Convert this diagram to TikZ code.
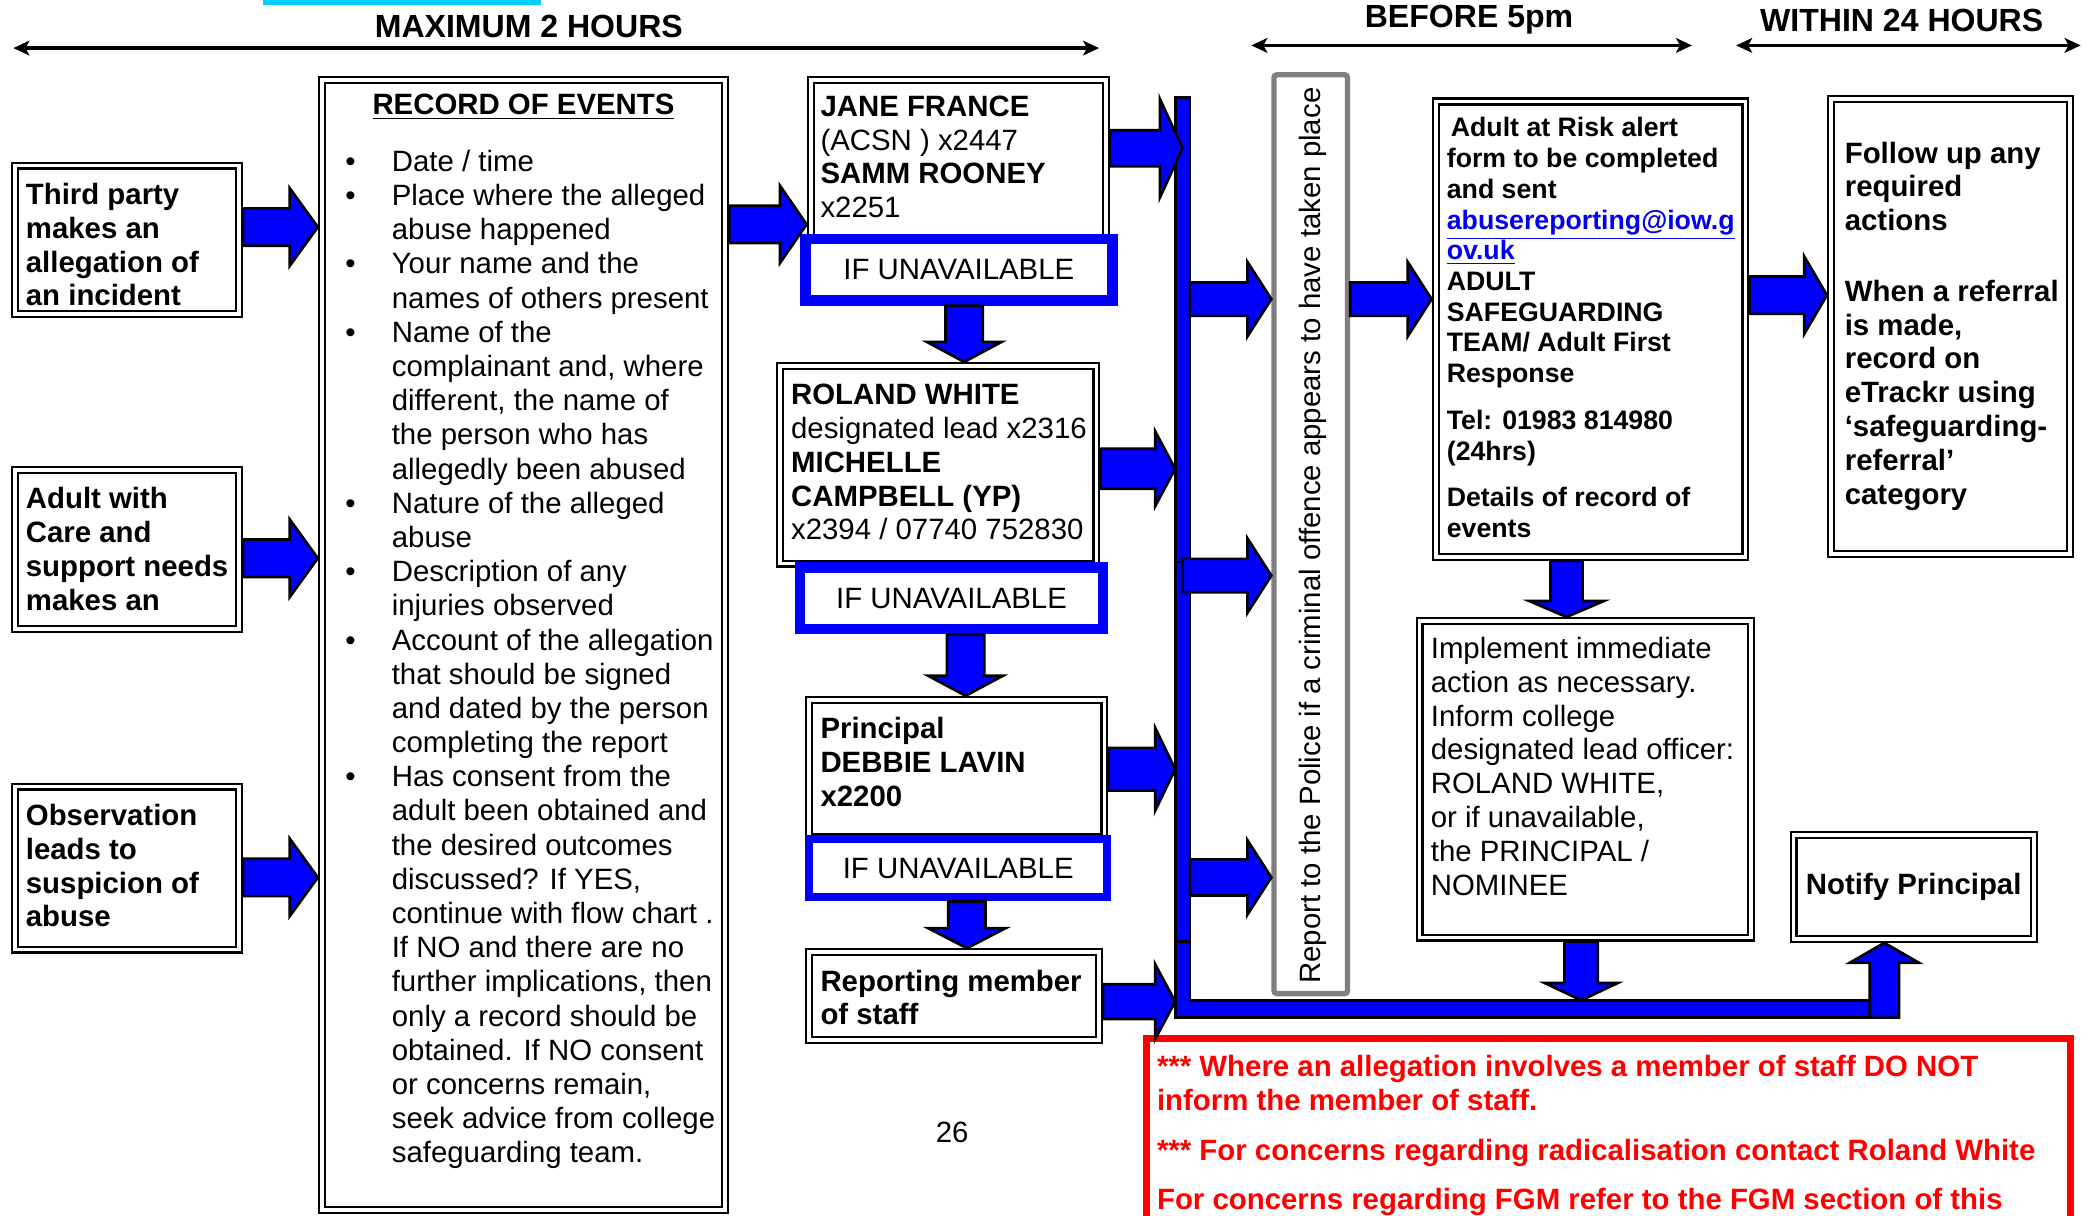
\documentclass[tikz,border=0pt]{standalone}
\usepackage{fontspec}
\setmainfont{Liberation Sans}
\usetikzlibrary{arrows.meta,calc}
\definecolor{pblue}{RGB}{0,0,255}
\definecolor{linkblue}{RGB}{0,0,238}
\definecolor{cyanbar}{RGB}{0,204,255}
\definecolor{pgray}{RGB}{128,128,128}
\definecolor{pred}{RGB}{255,0,0}
% double-bordered box: name, x, y, W, H (px), text
\newcommand\dbox[6]{\node[dbox, minimum width={(#4)*0.5pt-3pt}, minimum height={(#5)*0.5pt-3pt}] (#1) at (#2,#3) {#6};}
% blue "IF UNAVAILABLE" box: name, x, y, W, H, line width (pt)
\newcommand\ibox[6]{\node[ifbox, line width=#6pt, minimum width={(#4-2*#6)*0.5pt}, minimum height={(#5-2*#6)*0.5pt}] (#1) at (#2,#3) {IF UNAVAILABLE};}
% right block arrow: from, to, y, shaft half, head half, head length (px)
\newcommand\harr[6]{\draw[barrow] let \p1=(#1), \p2=(#2) in
 (\x1,{-(#3-#4)*0.5pt}) -- ({\x2-#6*0.5pt},{-(#3-#4)*0.5pt}) -- ({\x2-#6*0.5pt},{-(#3-#5)*0.5pt})
 -- (\x2,{-#3*0.5pt}) -- ({\x2-#6*0.5pt},{-(#3+#5)*0.5pt}) -- ({\x2-#6*0.5pt},{-(#3+#4)*0.5pt})
 -- (\x1,{-(#3+#4)*0.5pt}) -- cycle;}
% down block arrow: from, to, x, shaft half, head half, head length (px)
\newcommand\varr[6]{\draw[barrow] let \p1=(#1), \p2=(#2) in
 ({(#3-#4)*0.5pt},\y1) -- ({(#3-#4)*0.5pt},{\y2+#6*0.5pt}) -- ({(#3-#5)*0.5pt},{\y2+#6*0.5pt})
 -- ({#3*0.5pt},\y2) -- ({(#3+#5)*0.5pt},{\y2+#6*0.5pt}) -- ({(#3+#4)*0.5pt},{\y2+#6*0.5pt})
 -- ({(#3+#4)*0.5pt},\y1) -- cycle;}
% up block arrow
\newcommand\uarr[6]{\draw[barrow] let \p1=(#1), \p2=(#2) in
 ({(#3-#4)*0.5pt},\y1) -- ({(#3-#4)*0.5pt},{\y2-#6*0.5pt}) -- ({(#3-#5)*0.5pt},{\y2-#6*0.5pt})
 -- ({#3*0.5pt},\y2) -- ({(#3+#5)*0.5pt},{\y2-#6*0.5pt}) -- ({(#3+#4)*0.5pt},{\y2-#6*0.5pt})
 -- ({(#3+#4)*0.5pt},\y1) -- cycle;}
\newcommand\bul{\llap{\textbullet\hspace{13.5pt}}}
\begin{document}
\begin{tikzpicture}[x=0.5pt,y=-0.5pt,
 font=\fontsize{11}{12.65}\selectfont,
 dbox/.style={draw, double, double distance=1.4pt, line width=0.8pt, fill=white, inner sep=0pt, outer sep=1.5pt, anchor=north west},
 ifbox/.style={draw=pblue, fill=white, inner sep=0pt, anchor=north west},
 txt/.style={inner sep=0pt, anchor=north west, align=left},
 bold/.style={font=\fontsize{11}{12.65}\selectfont\bfseries},
 barrow/.style={fill=pblue, draw=black, line width=1pt, line join=miter},
 timearrow/.style={line width=1.2pt, {Stealth[length=6pt,width=5.5pt,inset=1.5pt]}-{Stealth[length=6pt,width=5.5pt,inset=1.5pt]}},
 toplabel/.style={font=\fontsize{12}{14}\selectfont\bfseries, inner sep=0pt}]
\path[use as bounding box, clip] (0,0) rectangle (1568,910.5);
\fill[white] (0,0) rectangle (1568,910.5);
\fill[cyanbar] (197,0) rectangle (405,4);

% time bars
\node[toplabel] (lmax) at (396,20) {MAXIMUM 2 HOURS};
\node[toplabel] (lfive) at (1100,15) {BEFORE 5pm};
\node[toplabel] (lday) at (1424,15) {WITHIN 24 HOURS};
\coordinate (m1) at (10,36); \coordinate (m2) at (823,36);
\coordinate (f1) at (937,34); \coordinate (f2) at (1267,34);
\coordinate (d1) at (1300,34); \coordinate (d2) at (1558,34);
\draw[timearrow] (m1) -- (m2);
\draw[timearrow] (f1) -- (f2);
\draw[timearrow] (d1) -- (d2);

% left column
\dbox{tp}{8}{121}{174}{117}{}
\dbox{acs}{8}{349}{174}{125}{}
\dbox{obs}{8}{586}{174}{128}{}
\node[txt,bold] (tpt) at (19,135) {\strut Third party\\makes an\\allegation of\\an incident};
\node[txt,bold] (acst) at (19,363) {\strut Adult with\\Care and\\support needs\\makes an};
\node[txt,bold] (obst) at (19,600) {\strut Observation\\leads to\\suspicion of\\abuse};

% record of events
\dbox{rec}{238}{57}{308}{852}{}
\node[bold, inner sep=0pt] (rect) at (392,80) {\underline{RECORD OF EVENTS}};
\node[txt, font=\fontsize{11}{12.8}\selectfont] (recl) at (293,110) {\strut\bul Date / time\\
\bul Place where the alleged\\abuse happened\\
\bul Your name and the\\names of others present\\
\bul Name of the\\complainant and, where\\different, the name of\\the person who has\\allegedly been abused\\
\bul Nature of the alleged\\abuse\\
\bul Description of any\\injuries observed\\
\bul Account of the allegation\\that should be signed\\and dated by the person\\completing the report\\
\bul Has consent from the\\adult been obtained and\\the desired outcomes\\discussed? If YES,\\continue with flow chart .\\If NO and there are no\\further implications, then\\only a record should be\\obtained. If NO consent\\or concerns remain,\\seek advice from college\\safeguarding team.};

% contacts column
\dbox{jane}{604}{57}{227}{128}{}
\node[txt] (janet) at (614,69) {\strut\textbf{JANE FRANCE}\\(ACSN ) x2447\\\textbf{SAMM ROONEY}\\x2251};
\ibox{if1}{599}{175}{238}{54}{4}
\dbox{roland}{581}{271}{243}{154}{}
\node[txt] (rolandt) at (592,285) {\strut\textbf{ROLAND WHITE}\\designated lead x2316\\\textbf{MICHELLE}\\\textbf{CAMPBELL (YP)}\\x2394 / 07740 752830};
\ibox{if2}{595}{421}{235}{54}{4}
\dbox{principal}{603}{521}{227}{109}{}
\node[txt,bold] (principalt) at (614,535) {\strut Principal\\DEBBIE LAVIN\\x2200};
\ibox{if3}{603}{625}{229}{50}{3}
\dbox{reporting}{603}{710}{223}{72}{}
\node[txt,bold] (reportingt) at (614,724) {\strut Reporting member\\of staff};
\node (page) at (713,848) {26};

% police
\node[draw=pgray, line width=2pt, rounded corners=1pt, fill=white, inner sep=0pt, anchor=north west,
  minimum width={(59-4)*0.5pt}, minimum height={(692-4)*0.5pt}] (police) at (952,54) {};
\node[rotate=90, inner sep=0pt] (policet) at (983,401) {Report to the Police if a criminal offence appears to have taken place};

% right side
\dbox{risk}{1072}{73}{238}{347}{}
\node[txt, font=\fontsize{10}{11.5}\selectfont\bfseries] (riskt) at (1083,86) {\strut\hspace{1.5pt}Adult at Risk alert\\form to be completed\\and sent\\\textcolor{linkblue}{\underline{abusereporting@iow.g}}\\\textcolor{linkblue}{\underline{ov.uk}}\\ADULT\\SAFEGUARDING\\TEAM/ Adult First\\Response\\[6pt]Tel: 01983 814980\\(24hrs)\\[6pt]Details of record of\\events};
\dbox{follow}{1368}{71}{185}{347}{}
\node[txt,bold] (followt) at (1381,104) {\strut Follow up any\\required\\actions\\[13.8pt]When a referral\\is made,\\record on\\eTrackr using\\‘safeguarding-\\referral’\\category};
\dbox{impl}{1060}{462}{254}{243}{}
\node[txt] (implt) at (1071,475) {\strut Implement immediate\\action as necessary.\\Inform college\\designated lead officer:\\ROLAND WHITE,\\or if unavailable,\\the PRINCIPAL /\\NOMINEE};
\dbox{notify}{1340}{622}{186}{84}{\bfseries Notify Principal}

% red note
\node[draw=pred, line width=2.5pt, fill=white, inner sep=0pt, anchor=north west,
  minimum width={(697-5)*0.5pt}, minimum height={(170-5)*0.5pt}] (note) at (856,775) {};
\node[txt, font=\fontsize{11}{12.65}\selectfont\bfseries, text=pred] (notet) at (866,788) {\strut*** Where an allegation involves a member of staff DO NOT\\inform the member of staff.\\[6pt]*** For concerns regarding radicalisation contact Roland White\\[6pt]For concerns regarding FGM refer to the FGM section of this};

% collecting bar
\node[inner sep=0pt, outer sep=0pt, anchor=north west, minimum width=5.5pt, minimum height={(762-73)*0.5pt}] (vbar) at (880,73) {};
\node[inner sep=0pt, outer sep=0pt, anchor=north west, minimum width={(1410-880)*0.5pt}, minimum height=6.5pt] (hbar) at (880,749) {};
\draw[barrow] (880,73) -- (891,73) -- (891,749) -- (1410,749) -- (1410,762) -- (880,762) -- cycle;
\draw[line width=0.8pt] (880,421) -- (891,421);
\draw[line width=0.8pt] (880,705) -- (891,705);

% block arrows
\harr{tp.east}{rec.west}{170}{14}{29}{21}
\harr{acs.east}{rec.west}{418}{14}{29}{21}
\harr{obs.east}{rec.west}{657}{14}{29}{21}
\harr{rec.east}{jane.west}{168}{14}{29}{20}
\varr{if1.south}{roland.north}{722}{14}{28}{15}
\varr{if2.south}{principal.north}{723}{14}{28}{15}
\varr{if3.south}{reporting.north}{724}{14}{29}{15}
\harr{jane.east}{vbar.center}{111}{13.5}{37}{17}
\harr{roland.east}{vbar.west}{351}{15}{28}{15}
\harr{principal.east}{vbar.west}{576}{16}{31}{15}
\harr{reporting.east}{vbar.west}{750}{13}{28}{15}
\harr{vbar.east}{police.west}{224}{12.5}{28}{18}
\harr{vbar.center}{police.west}{431}{12.5}{28}{18}
\harr{vbar.east}{police.west}{657}{13.5}{28}{18}
\harr{police.east}{risk.west}{224}{12.5}{28}{18}
\harr{risk.east}{follow.west}{221}{14}{29}{17}
\varr{risk.south}{impl.north}{1173}{12}{28}{12}
\varr{impl.south}{hbar.north}{1184}{12.5}{27.5}{13}
\uarr{hbar.south}{notify.south}{1411}{11}{26}{15}
\end{tikzpicture}
\end{document}
